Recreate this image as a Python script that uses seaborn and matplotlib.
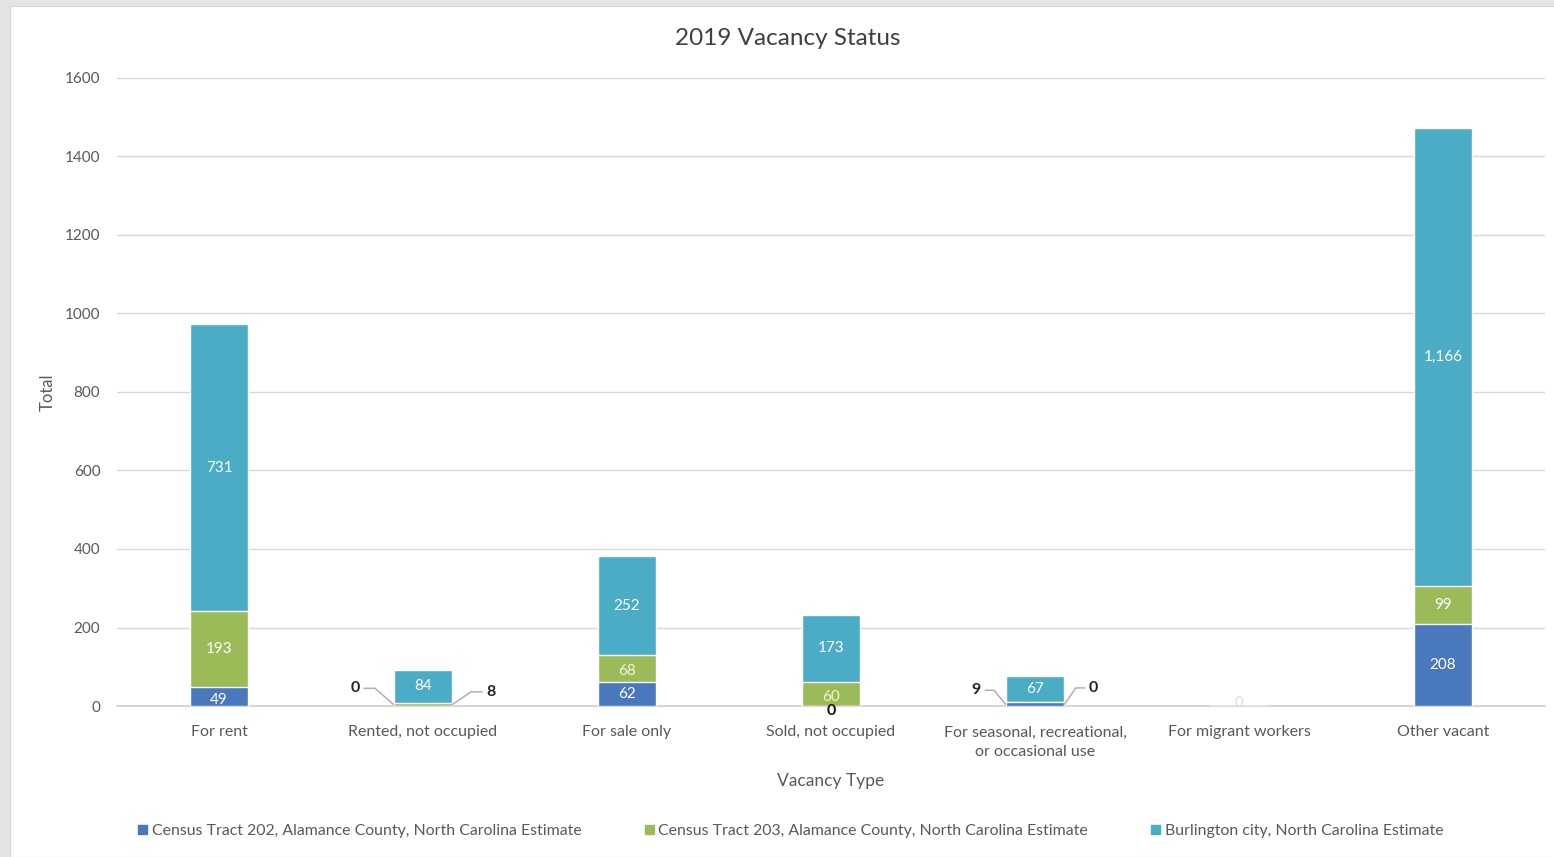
import matplotlib
matplotlib.use("Agg")
import matplotlib.pyplot as plt
import matplotlib.patches as mpatches
import numpy as np
import pandas as pd
import seaborn as sns

# data
categories = ["For rent", "Rented, not occupied", "For sale only", "Sold, not occupied",
              "For seasonal, recreational,\nor occasional use", "For migrant workers", "Other vacant"]
tract_202 = [49, 0, 62, 0, 9, 0, 208]
tract_203 = [193, 8, 68, 60, 0, 0, 99]
burlington = [731, 84, 252, 173, 67, 0, 1166]
series_names = ["Census Tract 202, Alamance County, North Carolina Estimate",
                "Census Tract 203, Alamance County, North Carolina Estimate",
                "Burlington city, North Carolina Estimate"]

c_202 = "#4a78bd"
c_203 = "#9bbb59"
c_bur = "#4bacc6"
grey = "#595959"

sns.set_theme(style="white")
plt.rcParams["font.family"] = ["Lato", "DejaVu Sans"]

df = pd.DataFrame({"cat": categories, "t202": tract_202, "t203": tract_203, "bur": burlington})
df["lvl1"] = df["t202"]
df["lvl2"] = df["t202"] + df["t203"]
df["lvl3"] = df["lvl2"] + df["bur"]

fig = plt.figure(figsize=(15.54, 8.57), dpi=100)
fig.patch.set_facecolor("#e4e4e4")
fig.add_artist(mpatches.Rectangle((10 / 1554, 0), 1, (857 - 6) / 857, transform=fig.transFigure,
                                  facecolor="white", edgecolor="#d6d6d6", lw=0.8, zorder=0))
ax = fig.add_axes([117 / 1554, (857 - 706) / 857, (1545 - 117) / 1554, (706 - 78) / 857])
ax.set_facecolor("none")

bw = 0.285
# stacking by overlaying cumulative totals
sns.barplot(data=df, x="cat", y="lvl3", color=c_bur, width=bw, saturation=1, ax=ax, zorder=3)
sns.barplot(data=df, x="cat", y="lvl2", color=c_203, width=bw, saturation=1, ax=ax, zorder=3)
sns.barplot(data=df, x="cat", y="lvl1", color=c_202, width=bw, saturation=1, ax=ax, zorder=3)

ax.set_ylim(0, 1600)
ax.set_yticks(np.arange(0, 1601, 200))
ax.set_xlim(-0.5, len(categories) - 0.5)
ax.grid(axis="y", color="#d9d9d9", lw=1, zorder=0)
for s in ["top", "right", "left"]:
    ax.spines[s].set_visible(False)
ax.spines["bottom"].set_color("#d0d0d0")
ax.spines["bottom"].set_linewidth(1.2)
ax.tick_params(axis="both", length=0, colors=grey, labelsize=11)
ax.tick_params(axis="y", pad=12)
ax.tick_params(axis="x", pad=14)
ax.set_xticks(range(len(categories)))
ax.set_xticklabels(categories, fontsize=11.5, color=grey, linespacing=1.55)
ax.set_ylabel("Total", fontsize=12, color=grey)
ax.yaxis.set_label_coords(-0.043, 0.5)
ax.set_xlabel("Vacancy Type", fontsize=12.5, color=grey, labelpad=10)
fig.text(0.507, 0.955, "2019 Vacancy Status", ha="center", va="center", fontsize=17.5, color="#404040")


def lab(x, y, v, **kw):
    ax.text(x, y, f"{v:,}", ha="center", va="center", zorder=5, **kw)


def callout(i, v, y, side, tight):
    # leader line: short horizontal next to the label, then diagonal down to the bar corner
    s = -1 if side == "left" else 1
    tx = i + s * (0.255 if tight else 0.30)
    kx = i + s * (0.20 if tight else 0.235)
    ax.plot([tx - s * 0.008, kx, i + s * bw / 2], [y, y, 3], color="#b0b0b0", lw=1.1,
            zorder=4, solid_capstyle="butt")
    ax.text(tx + s * 0.01, y, f"{v:,}", ha="right" if side == "left" else "left", va="center",
            fontsize=11.5, fontweight="bold", color="#222222", zorder=5)


for i in range(len(categories)):
    v1, v2, v3 = tract_202[i], tract_203[i], burlington[i]
    b2 = v1
    b3 = v1 + v2
    total = b3 + v3
    if total == 0:
        lab(i, 8, 0, color="#dddddd", fontsize=10.5)
        continue
    if total < 120:
        # small bars: Excel style leader callouts
        lab(i, b3 + v3 / 2, v3, color="white", fontsize=11)
        tight = v1 > 0
        callout(i, v1, 45 if not tight else 40, "left", tight)
        callout(i, v2, 36 if not tight else 46, "right", tight)
        continue
    if v1 > 0:
        lab(i, v1 / 2 - (8 if v1 < 60 else 0), v1, color="white", fontsize=11)
    else:
        lab(i, -14, 0, color="#111111", fontsize=11.5, fontweight="bold")
    lab(i, b2 + v2 / 2 - (8 if v2 < 70 else 0), v2, color="#f4f4d8" if v2 < 70 else "white", fontsize=11)
    lab(i, b3 + v3 / 2, v3, color="white", fontsize=11)

handles = [mpatches.Patch(color=c, label=n) for c, n in zip([c_202, c_203, c_bur], series_names)]
fig.legend(handles=handles, loc="center", bbox_to_anchor=(0.509, 0.03), ncol=3, frameon=False,
           fontsize=11.4, handlelength=0.55, handleheight=0.55, handletextpad=0.3,
           columnspacing=4.0, labelcolor=grey)

fig.savefig("out.png", dpi=100, facecolor=fig.get_facecolor())
